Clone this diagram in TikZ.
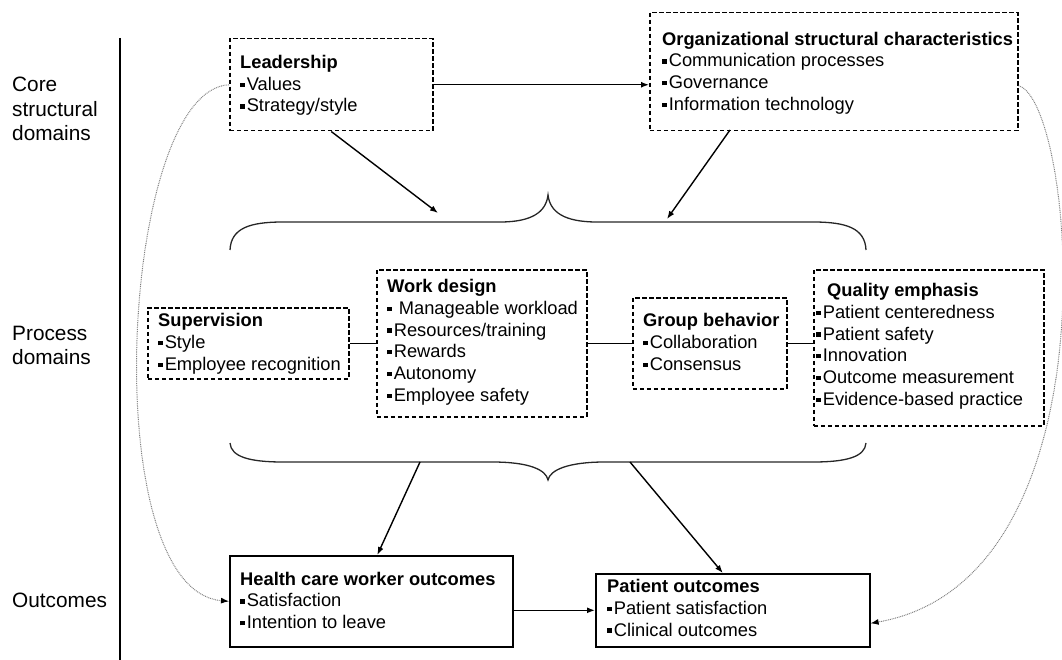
\documentclass[tikz,border=0pt]{standalone}
\usepackage{fontspec}
\setmainfont{Liberation Sans}
\usetikzlibrary{arrows.meta}
\newcommand\bul{\raisebox{0.18em}{\rule{0.24em}{0.24em}}\hspace{0.12em}}
\begin{document}
\begin{tikzpicture}[x=1pt,y=-1pt,
  dbox/.style={draw, line width=1.5pt, dash pattern=on 4.5pt off 2.5pt, inner sep=0pt, anchor=north west},
  sbox/.style={draw, line width=1.6pt, inner sep=0pt, anchor=north west},
  txt/.style={anchor=north west, inner sep=0pt, align=left, font=\fontsize{18.3}{21.7}\selectfont},
  lbl/.style={anchor=north west, inner sep=0pt, align=left, font=\fontsize{20.8}{24.5}\selectfont},
  arr/.style={line width=1.4pt, -{Latex[length=8pt,width=6pt]}},
  con/.style={line width=1.4pt},
  dotc/.style={line width=1pt, black!50, dash pattern=on 0.9pt off 0.9pt, -{Latex[length=8pt,width=6pt,color=black]}},
  bracel/.style={line width=1.3pt, black!85}]
\useasboundingbox (0,0) rectangle (1062,660);

% left labels and divider
\node[lbl] (lcore) at (12,74.5) {\strut Core\\structural\\domains};
\node[lbl] (lproc) at (12,322.9) {\strut Process\\domains};
\node[lbl] (lout) at (12,589.9) {\strut Outcomes};
\coordinate (vtop) at (120,38);
\coordinate (vbot) at (120,660);
\draw[line width=1.6pt] (vtop) -- (vbot);

% boxes
\node[dbox, minimum width=203pt, minimum height=92pt] (lead) at (229,38) {};
\node[dbox, minimum width=368pt, minimum height=118pt] (org) at (649,12) {};
\node[dbox, minimum width=201pt, minimum height=71pt] (sup) at (147,307) {};
\node[dbox, minimum width=210pt, minimum height=147pt] (work) at (376,269) {};
\node[dbox, minimum width=154pt, minimum height=91pt] (group) at (632,297) {};
\node[dbox, minimum width=230pt, minimum height=156pt] (qual) at (813,269) {};
\node[sbox, minimum width=283pt, minimum height=91pt] (hcw) at (229,555) {};
\node[sbox, minimum width=274pt, minimum height=73pt] (pat) at (595,573) {};

% texts
\node[txt] (leadT) at (240,53.1) {\strut\textbf{Leadership}\\\bul Values\\\bul Strategy/style};
\node[txt] (orgT) at (662,29.8) {\strut\textbf{Organizational structural characteristics}\\\bul Communication processes\\\bul Governance\\\bul Information technology};
\node[txt] (supT) at (158,311.5) {\strut\textbf{Supervision}\\\bul Style\\\bul Employee recognition};
\node[txt] (workT) at (387,277.3) {\strut\textbf{Work design}\\\bul\ Manageable workload\\\bul Resources/training\\\bul Rewards\\\bul Autonomy\\\bul Employee safety};
\node[txt] (groupT) at (643,311.5) {\strut\textbf{Group behavior}\\\bul Collaboration\\\bul Consensus};
\node[txt] (qualT) at (816,281.3) {\strut\hspace{11pt}\textbf{Quality emphasis}\\\bul Patient centeredness\\\bul Patient safety\\\bul Innovation\\\bul Outcome measurement\\\bul Evidence-based practice};
\node[txt] (hcwT) at (240,569.8) {\strut\textbf{Health care worker outcomes}\\\bul Satisfaction\\\bul Intention to leave};
\node[txt] (patT) at (607,577.3) {\strut\textbf{Patient outcomes}\\\bul Patient satisfaction\\\bul Clinical outcomes};

% braces
\draw[bracel] (230,250) .. controls (231,228) and (250,222) .. (283,222) -- (500,222)
  .. controls (532,222) and (546,212) .. (548,195)
  .. controls (550,212) and (564,222) .. (597,222) -- (813,222)
  .. controls (846,222) and (865,228) .. (866,250);
\draw[bracel] (230,443) .. controls (231,457) and (250,462) .. (283,462) -- (492,462)
  .. controls (530,462) and (546,470) .. (548,480)
  .. controls (550,470) and (568,462) .. (605,462) -- (813,462)
  .. controls (846,462) and (865,457) .. (866,443);

% connector endpoints on braces
\coordinate (tbl) at (438,213);
\coordinate (tbr) at (667,219);
\coordinate (bbl) at (420,462);
\coordinate (bbr) at (630,462);
\coordinate (orgs) at (730,130);

% arrows
\draw[arr] (lead.east) -- (lead.east -| org.west);
\draw[arr] (lead.south) -- (tbl);
\draw[arr] (orgs) -- (tbr);
\draw[arr] (bbl) -- ([xshift=6pt]hcw.north);
\draw[arr] (bbr) -- ([xshift=-10pt]pat.north);
\draw[arr] (hcw.east |- pat.west) -- (pat.west);

% process connectors
\draw[con] (sup.east) -- (sup.east -| work.west);
\draw[con] (work.east) -- (work.east -| group.west);
\draw[con] (group.east) -- (group.east -| qual.west);

% dotted curves
\draw[dotc] (lead.west) .. controls (120,90) and (95,590) .. (hcw.west);
\draw[dotc] ([yshift=-14pt]org.east) .. controls (1075,100) and (1120,580) .. ([yshift=-13pt]pat.east);
\end{tikzpicture}
\end{document}
